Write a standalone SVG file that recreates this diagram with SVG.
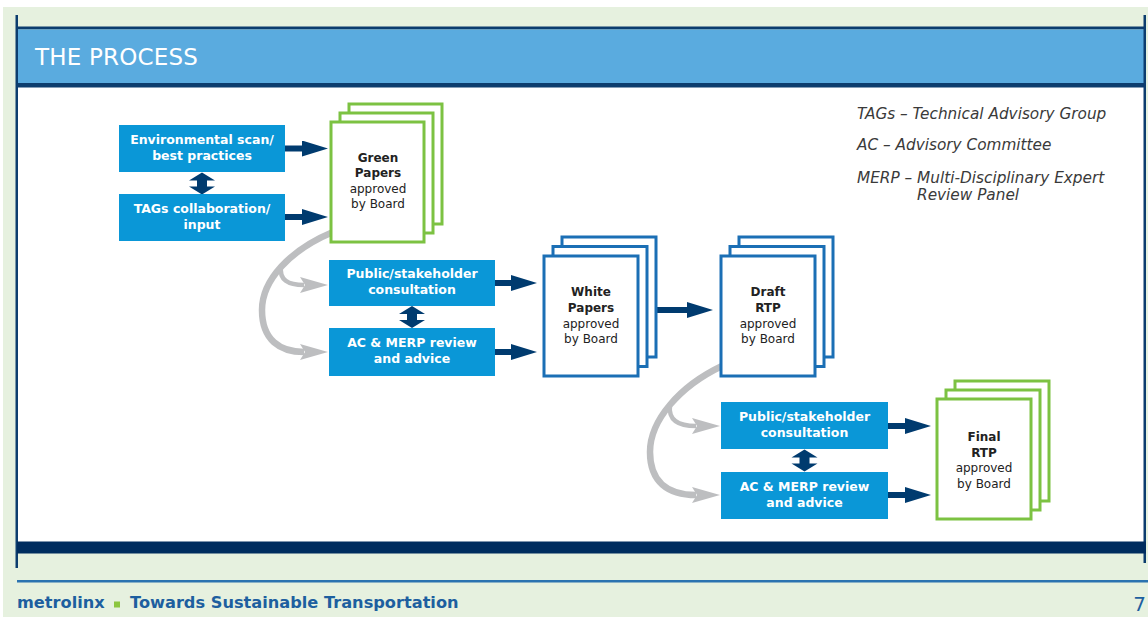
<svg xmlns="http://www.w3.org/2000/svg" width="1148" height="617" viewBox="0 0 1148 617">
<style>
.bg{fill:#e6f1df}
.box{fill:#0a97d7}
.bt{font-family:"DejaVu Sans","Liberation Sans",sans-serif;font-weight:bold;font-size:12.5px;fill:#ffffff;text-anchor:middle}
.pg{fill:#ffffff;stroke:#7cc242;stroke-width:3}
.pb{fill:#ffffff;stroke:#1b6fb5;stroke-width:3}
.pt{font-family:"DejaVu Sans","Liberation Sans",sans-serif;font-size:12px;fill:#222222;text-anchor:middle}
.pt .b{font-weight:bold}
.lg{font-family:"DejaVu Sans","Liberation Sans",sans-serif;font-style:italic;font-size:15.3px;fill:#3a3a3a}
.dk{stroke:#003b6f;stroke-width:6;fill:none}
.gr{stroke:#bdbec0;fill:none}
.ft{font-family:"DejaVu Sans","Liberation Sans",sans-serif;font-weight:bold;font-size:16.2px;fill:#1d5f9f}
</style>
<defs>
<marker id="ah" markerUnits="userSpaceOnUse" markerWidth="26" markerHeight="16" refX="1" refY="8" orient="auto" viewBox="0 0 26 16">
<path d="M0,0 L26,8 L0,16 Z" fill="#003b6f"/>
</marker>
<marker id="gh" markerUnits="userSpaceOnUse" markerWidth="28" markerHeight="16" refX="4" refY="8" orient="auto" viewBox="0 0 28 16">
<path d="M0,0 L28,8 L0,16 L5,8 Z" fill="#bdbec0"/>
</marker>
<path id="dbl" d="M0,0 L13,8 L5,8 L5,14 L13,14 L0,22 L-13,14 L-5,14 L-5,8 L-13,8 Z" fill="#003b6f"/>
</defs>

<!-- page background -->
<rect x="0" y="0" width="1148" height="617" fill="#ffffff"/>
<rect class="bg" x="3" y="7" width="1145" height="610"/>
<rect x="18" y="87" width="1126" height="455" fill="#ffffff"/>
<!-- header -->
<rect x="17" y="26.5" width="1129" height="3" fill="#0c3d6e"/>
<rect x="17" y="29.5" width="1129" height="53.5" fill="#5aabdf"/>
<rect x="17" y="83" width="1129" height="4.5" fill="#0c3d6e"/>
<text x="35" y="65" font-family="'DejaVu Sans','Liberation Sans',sans-serif" font-size="23" fill="#ffffff" letter-spacing="0.2">THE PROCESS</text>
<!-- frame -->
<rect x="15.5" y="15" width="2.5" height="553" fill="#0c3d6e"/>
<rect x="1143.5" y="15" width="2.5" height="548" fill="#0c3d6e"/>
<rect x="17" y="541.5" width="1129" height="12" fill="#002d5f"/>
<rect x="17" y="580" width="1131" height="2.5" fill="#2b73b0"/>
<!-- footer -->
<text class="ft" x="17" y="608">metrolinx</text>
<rect x="114" y="601.5" width="6" height="6" fill="#8cc63f"/>
<text class="ft" x="130" y="608">Towards Sustainable Transportation</text>
<text x="1146" y="611" text-anchor="end" font-family="'DejaVu Sans','Liberation Sans',sans-serif" font-size="20" fill="#1d5f9f">7</text>

<!-- legend -->
<g id="legend">
<text class="lg" x="857" y="118.5">TAGs – Technical Advisory Group</text>
<text class="lg" x="857" y="150">AC – Advisory Committee</text>
<text class="lg" x="857" y="182.5">MERP – Multi-Disciplinary Expert</text>
<text class="lg" x="917" y="200">Review Panel</text>
</g>

<!-- connectors -->
<g id="connectors">
<path class="gr" stroke-width="6.5" d="M333,232 C290,250 262,280 262,310 C262,340 280,352 304,352" marker-end="url(#gh)"/>
<path class="gr" stroke-width="4.5" d="M281,266 C279,280 288,285 304,285" marker-end="url(#gh)"/>
<path class="gr" stroke-width="6.5" d="M722,366 C680,386 650,420 650,452 C650,482 668,495 696,495" marker-end="url(#gh)"/>
<path class="gr" stroke-width="4.5" d="M670,405 C668,420 678,426 696,426" marker-end="url(#gh)"/>

<line class="dk" x1="285" y1="148.5" x2="303" y2="148.5" marker-end="url(#ah)"/>
<line class="dk" x1="285" y1="217" x2="303" y2="217" marker-end="url(#ah)"/>
<line class="dk" x1="495" y1="283" x2="512" y2="283" marker-end="url(#ah)"/>
<line class="dk" x1="495" y1="352" x2="512" y2="352" marker-end="url(#ah)"/>
<line class="dk" x1="656" y1="310" x2="688" y2="310" marker-end="url(#ah)"/>
<line class="dk" x1="888" y1="426" x2="906" y2="426" marker-end="url(#ah)"/>
<line class="dk" x1="888" y1="495" x2="906" y2="495" marker-end="url(#ah)"/>

<use href="#dbl" x="202" y="172.5"/>
<use href="#dbl" x="412" y="306"/>
<use href="#dbl" x="804.5" y="449.5"/>
</g>

<!-- nodes -->
<g id="env-scan">
<rect class="box" x="119" y="125" width="166" height="47"/>
<text class="bt" x="202" y="143.5">Environmental scan/</text>
<text class="bt" x="202" y="159.5">best practices</text>
</g>
<g id="tags-collab">
<rect class="box" x="119" y="194" width="166" height="47"/>
<text class="bt" x="202" y="212.5">TAGs collaboration/</text>
<text class="bt" x="202" y="228.5">input</text>
</g>
<g id="green-papers">
<rect class="pg" x="349" y="104" width="93" height="120"/>
<rect class="pg" x="340" y="113" width="93" height="120"/>
<rect class="pg" x="331" y="122" width="93" height="120"/>
<text class="pt"><tspan class="b" x="378" y="161.5">Green</tspan><tspan class="b" x="378" y="177">Papers</tspan><tspan x="378" y="192.5">approved</tspan><tspan x="378" y="208">by Board</tspan></text>
</g>
<g id="public-1">
<rect class="box" x="329" y="260" width="166" height="46"/>
<text class="bt" x="412" y="278">Public/stakeholder</text>
<text class="bt" x="412" y="294">consultation</text>
</g>
<g id="ac-merp-1">
<rect class="box" x="329" y="328" width="166" height="48"/>
<text class="bt" x="412" y="347">AC &amp; MERP review</text>
<text class="bt" x="412" y="363">and advice</text>
</g>
<g id="white-papers">
<rect class="pb" x="562" y="237" width="94" height="120"/>
<rect class="pb" x="553" y="246.5" width="94" height="120"/>
<rect class="pb" x="544" y="256" width="94" height="120"/>
<text class="pt"><tspan class="b" x="591" y="296">White</tspan><tspan class="b" x="591" y="312">Papers</tspan><tspan x="591" y="327.5">approved</tspan><tspan x="591" y="342.5">by Board</tspan></text>
</g>
<g id="draft-rtp">
<rect class="pb" x="739" y="237" width="94" height="120"/>
<rect class="pb" x="730" y="246.5" width="94" height="120"/>
<rect class="pb" x="721" y="256" width="94" height="120"/>
<text class="pt"><tspan class="b" x="768" y="296">Draft</tspan><tspan class="b" x="768" y="311.5">RTP</tspan><tspan x="768" y="327.5">approved</tspan><tspan x="768" y="342.5">by Board</tspan></text>
</g>
<g id="public-2">
<rect class="box" x="721" y="402" width="167" height="47"/>
<text class="bt" x="804.5" y="421">Public/stakeholder</text>
<text class="bt" x="804.5" y="437">consultation</text>
</g>
<g id="ac-merp-2">
<rect class="box" x="721" y="472" width="167" height="47"/>
<text class="bt" x="804.5" y="490.5">AC &amp; MERP review</text>
<text class="bt" x="804.5" y="506.5">and advice</text>
</g>
<g id="final-rtp">
<rect class="pg" x="955" y="381" width="94" height="120"/>
<rect class="pg" x="946" y="390" width="94" height="120"/>
<rect class="pg" x="937" y="399" width="94" height="120"/>
<text class="pt"><tspan class="b" x="984" y="441">Final</tspan><tspan class="b" x="984" y="456.5">RTP</tspan><tspan x="984" y="472">approved</tspan><tspan x="984" y="487.5">by Board</tspan></text>
</g>
</svg>
